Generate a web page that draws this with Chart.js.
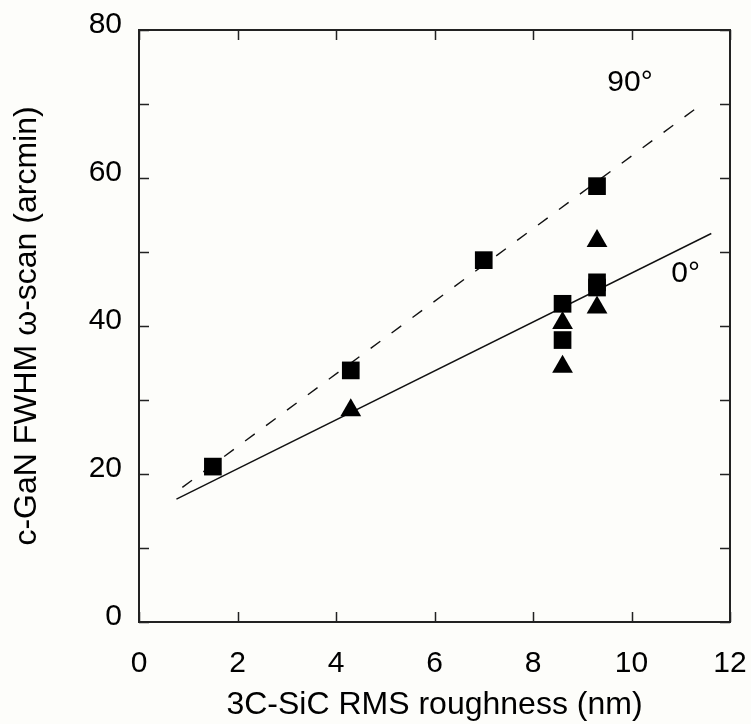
<!DOCTYPE html>
<html>
<head>
<meta charset="utf-8">
<script src="https://cdn.jsdelivr.net/npm/chart.js@4"></script>
<style>
  html, body { margin: 0; padding: 0; background: #fdfdfa; }
  #wrap { width: 751px; height: 724px; }
</style>
</head>
<body>
<div id="wrap"><canvas id="grafico" width="751" height="724"></canvas></div>
<script>
// valores
const cuadradosX = [1.5, 4.3, 7.0, 8.6, 8.6, 9.3, 9.3, 9.3];
const cuadradosY = [21.0, 34.0, 48.9, 43.0, 38.1, 58.9, 45.9, 45.2];
const triangulosX = [4.3, 8.6, 8.6, 9.3, 9.3];
const triangulosY = [28.6, 40.4, 34.5, 51.5, 42.5];
// rectas de ajuste (extremos)
const recta90X = [0.88, 11.33];
const recta90Y = [18.2, 69.5];
const recta0X = [0.76, 11.62];
const recta0Y = [16.6, 52.5];
// etiquetas
const etiquetasX = [0, 2, 4, 6, 8, 10, 12];
const etiquetasY = [0, 20, 40, 60, 80];
const anotaciones = ["90°", "0°"];
const anotX = [9.97, 11.1];
const anotY = [72.9, 47.0];

const fuente = "'Liberation Sans', Arial, sans-serif";

function puntos(xs, ys) {
    return xs.map((x, i) => ({ x: x, y: ys[i] }));
}

// marco y marcas hacia adentro, mas las anotaciones
const marco = {
    id: "marco",
    afterDatasetsDraw(chart) {
        const ctx = chart.ctx;
        const a = chart.chartArea;
        const sx = chart.scales.x;
        const sy = chart.scales.y;
        ctx.save();
        ctx.strokeStyle = "#222";
        ctx.lineWidth = 2;
        ctx.strokeRect(a.left, a.top, a.right - a.left, a.bottom - a.top);
        ctx.lineWidth = 1.5;
        ctx.beginPath();
        sx.ticks.forEach((t) => {
            const px = Math.round(sx.getPixelForValue(t.value)) + 0.5;
            ctx.moveTo(px, a.bottom); ctx.lineTo(px, a.bottom - 10);
            ctx.moveTo(px, a.top); ctx.lineTo(px, a.top + 10);
        });
        sy.ticks.forEach((t) => {
            const py = Math.round(sy.getPixelForValue(t.value)) + 0.5;
            ctx.moveTo(a.left, py); ctx.lineTo(a.left + 10, py);
            ctx.moveTo(a.right, py); ctx.lineTo(a.right - 10, py);
        });
        ctx.stroke();
        ctx.fillStyle = "#000";
        ctx.font = "30px " + fuente;
        ctx.textAlign = "center";
        ctx.textBaseline = "middle";
        anotaciones.forEach((txt, i) => {
            ctx.fillText(txt, sx.getPixelForValue(anotX[i]), sy.getPixelForValue(anotY[i]));
        });
        ctx.restore();
    }
};

const fondo = {
    id: "fondo",
    beforeDraw(chart) {
        const ctx = chart.ctx;
        ctx.save();
        ctx.fillStyle = "#fdfdfa";
        ctx.fillRect(0, 0, chart.width, chart.height);
        ctx.restore();
    }
};

new Chart(document.getElementById("grafico").getContext("2d"), {
    type: "scatter",
    data: {
        datasets: [
            {
                label: "90°",
                data: puntos(cuadradosX, cuadradosY),
                pointStyle: "rect",
                pointRadius: 12.5,
                borderWidth: 0,
                backgroundColor: "#000"
            },
            {
                label: "0°",
                data: puntos(triangulosX, triangulosY),
                pointStyle: "triangle",
                pointRadius: 12,
                borderWidth: 0,
                backgroundColor: "#000"
            },
            {
                type: "line",
                label: "ajuste 90°",
                data: puntos(recta90X, recta90Y),
                borderColor: "#111",
                borderWidth: 1.4,
                borderDash: [12, 14],
                pointRadius: 0,
                fill: false
            },
            {
                type: "line",
                label: "ajuste 0°",
                data: puntos(recta0X, recta0Y),
                borderColor: "#111",
                borderWidth: 1.4,
                pointRadius: 0,
                fill: false
            }
        ]
    },
    options: {
        responsive: false,
        animation: false,
        events: [],
        layout: {
            padding: { left: 0, right: 21, top: 30, bottom: 0 }
        },
        plugins: {
            legend: { display: false },
            tooltip: { enabled: false },
            title: { display: false }
        },
        scales: {
            x: {
                type: "linear",
                min: 0,
                max: 12,
                grid: { display: false, drawTicks: false },
                border: { display: false },
                ticks: {
                    stepSize: 2,
                    padding: 24,
                    color: "#000",
                    font: { family: fuente, size: 30 },
                    callback: (v) => etiquetasX.includes(v) ? String(v) : ""
                },
                title: {
                    display: true,
                    text: "3C-SiC RMS roughness (nm)",
                    color: "#000",
                    font: { family: fuente, size: 32 },
                    padding: { top: 0, bottom: 0 }
                },
                afterFit(scale) {
                    scale.height = 102;
                    scale.paddingLeft = 0;
                    scale.paddingRight = 0;
                }
            },
            y: {
                type: "linear",
                min: 0,
                max: 80,
                grid: { display: false, drawTicks: false },
                border: { display: false },
                ticks: {
                    stepSize: 10,
                    padding: 17,
                    labelOffset: -5,
                    color: "#000",
                    font: { family: fuente, size: 30 },
                    callback: (v) => etiquetasY.includes(v) ? String(v) : ""
                },
                title: {
                    display: true,
                    text: "c-GaN FWHM ω-scan (arcmin)",
                    color: "#000",
                    font: { family: fuente, size: 32 },
                    padding: { top: 8, bottom: 0 }
                },
                afterFit(scale) {
                    scale.width = 139;
                    scale.paddingTop = 0;
                    scale.paddingBottom = 0;
                }
            }
        }
    },
    plugins: [fondo, marco]
});
</script>
</body>
</html>
